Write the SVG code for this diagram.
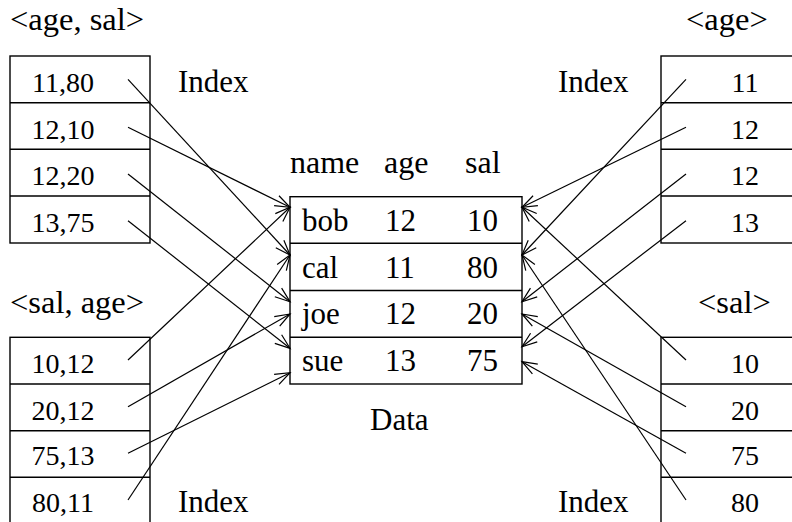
<svg xmlns="http://www.w3.org/2000/svg" width="792" height="522" viewBox="0 0 792 522">
<style>
text{font-family:"Liberation Serif","Times New Roman",serif;fill:#000}
.lbl{font-size:32.5px}
.big{font-size:31px}
.hdr{font-size:32px}
.num{font-size:28px;text-anchor:middle}
.dat{font-size:31px}
.box{fill:none;stroke:#000;stroke-width:1.4}
.conn line{stroke:#000;stroke-width:1.2;marker-end:url(#ah)}
</style>
<defs>
<marker id="ah" markerUnits="userSpaceOnUse" markerWidth="20" markerHeight="14" viewBox="-17 -7 20 14" refX="0" refY="0" orient="auto" overflow="visible">
<path d="M-15,-5.5 L0,0 L-15,5.5" fill="none" stroke="#000" stroke-width="1.2"/>
</marker>
</defs>
<rect width="792" height="522" fill="#fff"/>

<g id="idx-age-sal">
<text class="lbl" x="10" y="30">&lt;age, sal&gt;</text>
<rect class="box" x="10" y="56" width="140" height="187"/>
<line class="box" x1="10" y1="102.7" x2="150" y2="102.7"/>
<line class="box" x1="10" y1="149.3" x2="150" y2="149.3"/>
<line class="box" x1="10" y1="196" x2="150" y2="196"/>
<text class="num" x="63" y="92">11,80</text>
<text class="num" x="63" y="139">12,10</text>
<text class="num" x="63" y="185">12,20</text>
<text class="num" x="63" y="232">13,75</text>
<text class="big" x="178" y="92">Index</text>
</g>

<g id="idx-age">
<text class="lbl" x="686" y="30">&lt;age&gt;</text>
<rect class="box" x="661" y="56" width="150" height="187"/>
<line class="box" x1="661" y1="102.7" x2="811" y2="102.7"/>
<line class="box" x1="661" y1="149.3" x2="811" y2="149.3"/>
<line class="box" x1="661" y1="196" x2="811" y2="196"/>
<text class="num" x="745" y="92">11</text>
<text class="num" x="745" y="139">12</text>
<text class="num" x="745" y="185">12</text>
<text class="num" x="745" y="232">13</text>
<text class="big" x="558" y="92">Index</text>
</g>

<g id="idx-sal-age">
<text class="lbl" x="10" y="313">&lt;sal, age&gt;</text>
<rect class="box" x="10" y="337.3" width="140" height="200"/>
<line class="box" x1="10" y1="384" x2="150" y2="384"/>
<line class="box" x1="10" y1="430.7" x2="150" y2="430.7"/>
<line class="box" x1="10" y1="477.3" x2="150" y2="477.3"/>
<text class="num" x="63" y="373">10,12</text>
<text class="num" x="63" y="420">20,12</text>
<text class="num" x="63" y="465">75,13</text>
<text class="num" x="63" y="512">80,11</text>
<text class="big" x="178" y="512">Index</text>
</g>

<g id="idx-sal">
<text class="lbl" x="698" y="313">&lt;sal&gt;</text>
<rect class="box" x="661" y="337.3" width="150" height="200"/>
<line class="box" x1="661" y1="384" x2="811" y2="384"/>
<line class="box" x1="661" y1="430.7" x2="811" y2="430.7"/>
<line class="box" x1="661" y1="477.3" x2="811" y2="477.3"/>
<text class="num" x="745" y="373">10</text>
<text class="num" x="745" y="420">20</text>
<text class="num" x="745" y="465">75</text>
<text class="num" x="745" y="512">80</text>
<text class="big" x="558" y="512">Index</text>
</g>

<g id="data">
<text class="hdr" x="290" y="173">name</text>
<text class="hdr" x="384" y="173">age</text>
<text class="hdr" x="465" y="173">sal</text>
<rect class="box" x="290" y="196.7" width="232" height="187.3"/>
<line class="box" x1="290" y1="243.3" x2="522" y2="243.3"/>
<line class="box" x1="290" y1="290.5" x2="522" y2="290.5"/>
<line class="box" x1="290" y1="337.3" x2="522" y2="337.3"/>
<text class="dat" x="302" y="231">bob</text>
<text class="dat" x="385" y="231">12</text>
<text class="dat" x="467" y="231">10</text>
<text class="dat" x="302" y="278">cal</text>
<text class="dat" x="385" y="278">11</text>
<text class="dat" x="467" y="278">80</text>
<text class="dat" x="302" y="324">joe</text>
<text class="dat" x="385" y="324">12</text>
<text class="dat" x="467" y="324">20</text>
<text class="dat" x="302" y="371">sue</text>
<text class="dat" x="385" y="371">13</text>
<text class="dat" x="467" y="371">75</text>
<text class="big" x="370" y="430">Data</text>
</g>

<g id="connectors" class="conn">
<line x1="128" y1="79.3" x2="290" y2="255"/>
<line x1="128" y1="127.3" x2="290" y2="207.3"/>
<line x1="128" y1="174" x2="290" y2="301.7"/>
<line x1="128" y1="220.7" x2="290" y2="348.3"/>
<line x1="128" y1="360" x2="290" y2="207.3"/>
<line x1="128" y1="406.7" x2="290" y2="314"/>
<line x1="128" y1="453.3" x2="290" y2="372.7"/>
<line x1="128" y1="500" x2="290" y2="255"/>
<line x1="686" y1="79.3" x2="522" y2="255"/>
<line x1="686" y1="127.3" x2="522" y2="207.3"/>
<line x1="686" y1="174" x2="522" y2="301.7"/>
<line x1="686" y1="220.7" x2="522" y2="346.7"/>
<line x1="686" y1="360" x2="522" y2="207.3"/>
<line x1="686" y1="406.7" x2="522" y2="314"/>
<line x1="686" y1="453.3" x2="522" y2="361.7"/>
<line x1="686" y1="500" x2="522" y2="255"/>
</g>
</svg>
